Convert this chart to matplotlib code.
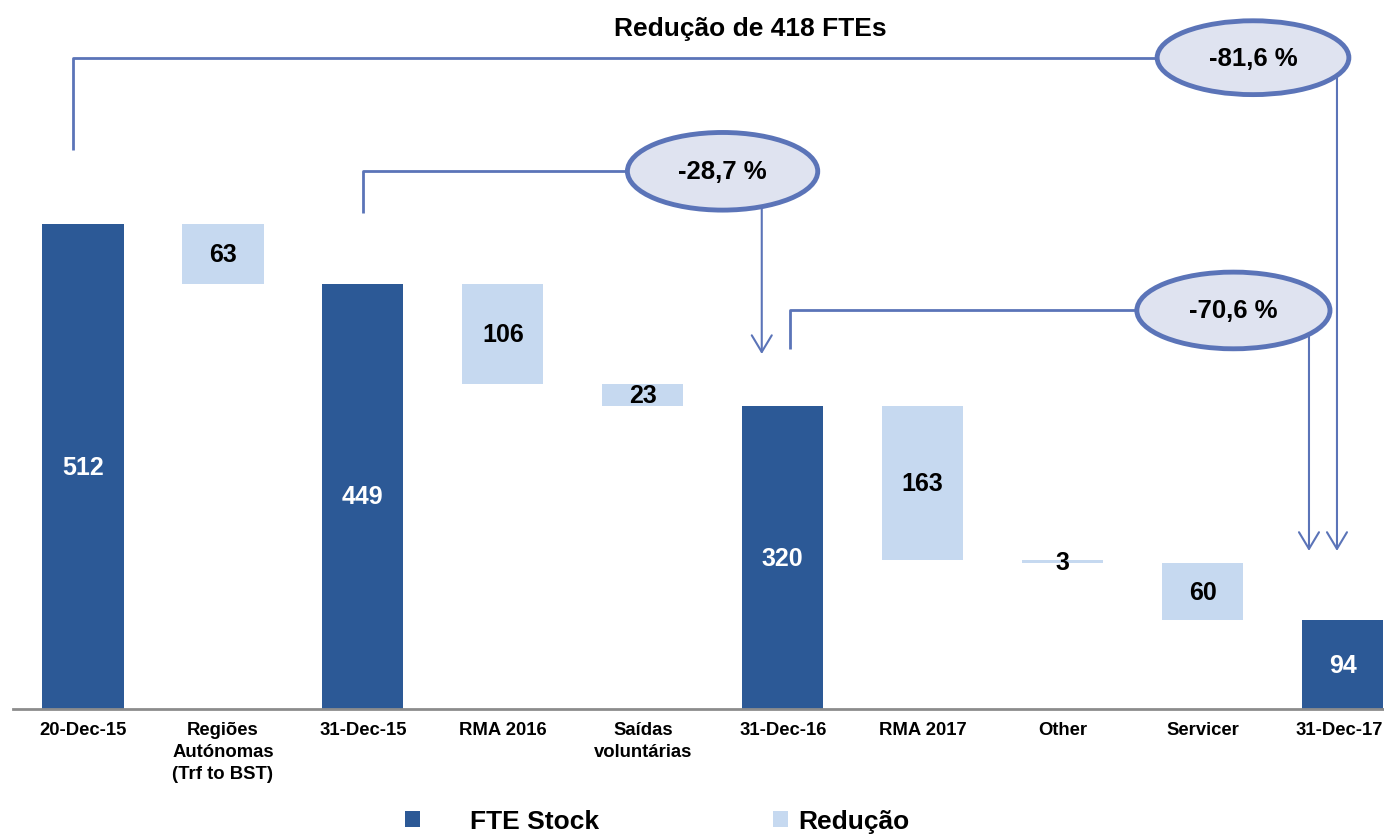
import matplotlib
matplotlib.use('Agg')
import matplotlib.pyplot as plt
import matplotlib.transforms as mtransforms
from matplotlib.patches import Ellipse, Patch

plt.rcParams['font.family'] = ['Liberation Sans', 'DejaVu Sans']
plt.rcParams['font.weight'] = 'bold'

# data
categories = ['20-Dec-15', 'Regiões\nAutónomas\n(Trf to BST)', '31-Dec-15', 'RMA 2016',
              'Saídas\nvoluntárias', '31-Dec-16', 'RMA 2017', 'Other', 'Servicer', '31-Dec-17']
values = [512, 63, 449, 106, 23, 320, 163, 3, 60, 94]
is_total = [True, False, True, False, False, True, False, False, False, True]
title_text = 'Redução de 418 FTEs'
pct_labels = ['-81,6 %', '-28,7 %', '-70,6 %']
legend_labels = ['FTE Stock', 'Redução']

dark = '#2C5996'
light = '#C6D9F0'
line_col = '#5B74B8'
fill_col = '#DFE3F0'

fig = plt.figure(figsize=(13.84, 8.37), dpi=100)
ax = fig.add_axes([13 / 1384, 127 / 837, 1371 / 1384, 710 / 837])

# waterfall bars
running = 0
bottoms = []
for v, t in zip(values, is_total):
    if t:
        bottoms.append(0)
        running = v
    else:
        running -= v
        bottoms.append(running)

x = list(range(len(values)))
colors = [dark if t else light for t in is_total]
ax.bar(x, values, bottom=bottoms, width=0.58, color=colors, zorder=2)

for xi, v, b, t in zip(x, values, bottoms, is_total):
    ax.text(xi, b + v / 2, str(v), ha='center', va='center', fontsize=18,
            fontweight='bold', color='white' if t else 'black', zorder=5)

ax.set_xlim(-0.5, 9.296)
ax.set_ylim(0, 750)
ax.set_xticks(x)
ax.set_xticklabels(categories, fontsize=13.3, fontweight='bold', linespacing=1.35)
ax.tick_params(axis='x', length=0, pad=9)
# last label sits right at the figure edge, nudge it in a little
last = ax.get_xticklabels()[-1]
last.set_transform(last.get_transform() + mtransforms.ScaledTranslation(-3 / 100, 0, fig.dpi_scale_trans))
ax.set_yticks([])
for s in ['top', 'right', 'left']:
    ax.spines[s].set_visible(False)
ax.spines['bottom'].set_color('#8C8C8C')
ax.spines['bottom'].set_linewidth(2)

# brackets with percentage ellipses
def bracket(x0, y0, yh, xe, x1, y1, ew, eh, label):
    ax.plot([x0, x0, xe], [y0, yh, yh], color=line_col, lw=2, zorder=3,
            solid_capstyle='butt')
    ax.annotate('', xy=(x1, y1), xytext=(x1, yh),
                arrowprops=dict(arrowstyle='->,head_length=1.0,head_width=0.6',
                                mutation_scale=12, color=line_col, lw=1.5,
                                shrinkA=0, shrinkB=0), zorder=3)
    e = Ellipse((xe, yh), ew, eh, facecolor=fill_col, edgecolor=line_col,
                lw=3.5, zorder=4)
    ax.add_patch(e)
    ax.text(xe, yh, label, ha='center', va='center', fontsize=18.5,
            fontweight='bold', zorder=5)

bracket(-0.07, 591, 688, 8.36, 8.96, 167, 1.37, 78, pct_labels[0])
bracket(2.0, 524, 568, 4.57, 4.85, 375, 1.36, 82, pct_labels[1])
bracket(5.05, 380, 421, 8.22, 8.76, 167, 1.38, 81, pct_labels[2])

ax.text(4.77, 719, title_text, ha='center', va='center', fontsize=19,
        fontweight='bold')

# two legend entries, spaced like the original
leg_opts = dict(loc='center left', frameon=False, prop={'weight': 'bold', 'size': 19},
                handlelength=0.55, handleheight=0.55, borderpad=0, borderaxespad=0)
fig.legend([Patch(facecolor=dark)], [legend_labels[0]],
           bbox_to_anchor=(405 / 1384, 0.018), handletextpad=1.9, **leg_opts)
fig.legend([Patch(facecolor=light)], [legend_labels[1]],
           bbox_to_anchor=(773 / 1384, 0.018), handletextpad=0.4, **leg_opts)

fig.savefig('out.png', dpi=100)
